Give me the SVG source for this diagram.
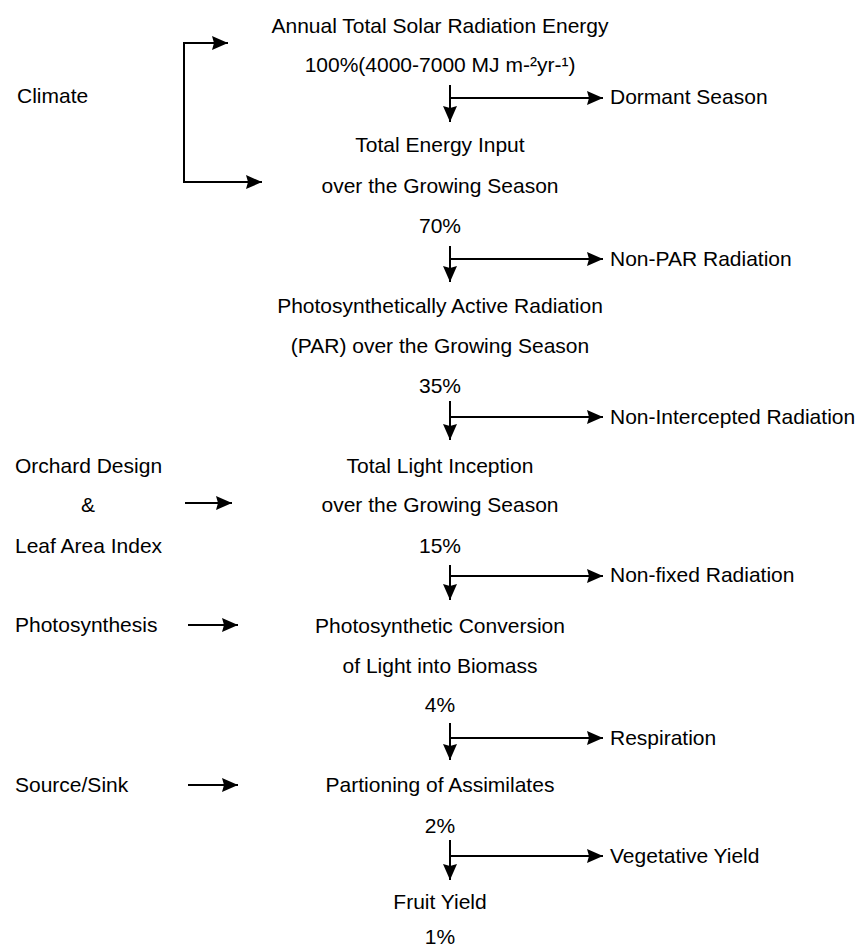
<svg xmlns="http://www.w3.org/2000/svg" width="867" height="949" viewBox="0 0 867 949">
<style>
text{font-family:"Liberation Sans",Arial,sans-serif;font-size:21px;fill:#000}
.c{text-anchor:middle}
.ln{stroke:#000;stroke-width:2;fill:none}
</style>
<defs>
<marker id="ah" markerUnits="userSpaceOnUse" markerWidth="17" markerHeight="14" refX="16" refY="7" orient="auto">
<path d="M0,0 L16,7 L0,14 L2,7 z" fill="#000"/>
</marker>
</defs>
<rect width="867" height="949" fill="#fff"/>
<g id="n-solar"><text class="c" x="440" y="33">Annual Total Solar Radiation Energy</text><text class="c" x="440" y="72">100%(4000-7000 MJ m-²yr-¹)</text></g>
<g id="n-input"><text class="c" x="440" y="152">Total Energy Input</text><text class="c" x="440" y="193">over the Growing Season</text><text class="c" x="440" y="233">70%</text></g>
<g id="n-par"><text class="c" x="440" y="313">Photosynthetically Active Radiation</text><text class="c" x="440" y="353">(PAR) over the Growing Season</text><text class="c" x="440" y="393">35%</text></g>
<g id="n-light"><text class="c" x="440" y="473">Total Light Inception</text><text class="c" x="440" y="512">over the Growing Season</text><text class="c" x="440" y="553">15%</text></g>
<g id="n-conv"><text class="c" x="440" y="633">Photosynthetic Conversion</text><text class="c" x="440" y="673">of Light into Biomass</text><text class="c" x="440" y="712">4%</text></g>
<g id="n-part"><text class="c" x="440" y="792">Partioning of Assimilates</text><text class="c" x="440" y="833">2%</text></g>
<g id="n-fruit"><text class="c" x="440" y="909">Fruit Yield</text><text class="c" x="440" y="944">1%</text></g>
<g id="n-dormant"><text x="610" y="104">Dormant Season</text></g>
<g id="n-nonpar"><text x="610" y="266">Non-PAR Radiation</text></g>
<g id="n-nonint"><text x="610" y="424">Non-Intercepted Radiation</text></g>
<g id="n-nonfixed"><text x="610" y="582">Non-fixed Radiation</text></g>
<g id="n-resp"><text x="610" y="745">Respiration</text></g>
<g id="n-veg"><text x="610" y="863">Vegetative Yield</text></g>
<g id="n-climate"><text x="17" y="103">Climate</text></g>
<g id="n-orchard"><text x="15" y="473">Orchard Design</text><text class="c" x="88" y="512">&amp;</text><text x="15" y="553">Leaf Area Index</text></g>
<g id="n-photo"><text x="15" y="632">Photosynthesis</text></g>
<g id="n-source"><text x="15" y="792">Source/Sink</text></g>
<g id="connectors">
<path class="ln" d="M184,43 V182 H262" marker-end="url(#ah)"/>
<path class="ln" d="M183,43 H228" marker-end="url(#ah)"/>
<line class="ln" x1="450" y1="85" x2="450" y2="122" marker-end="url(#ah)"/>
<line class="ln" x1="450" y1="98" x2="603" y2="98" marker-end="url(#ah)"/>
<line class="ln" x1="450" y1="246" x2="450" y2="282" marker-end="url(#ah)"/>
<line class="ln" x1="450" y1="259" x2="603" y2="259" marker-end="url(#ah)"/>
<line class="ln" x1="450" y1="401" x2="450" y2="440" marker-end="url(#ah)"/>
<line class="ln" x1="450" y1="417" x2="603" y2="417" marker-end="url(#ah)"/>
<line class="ln" x1="450" y1="565" x2="450" y2="600" marker-end="url(#ah)"/>
<line class="ln" x1="450" y1="576" x2="603" y2="576" marker-end="url(#ah)"/>
<line class="ln" x1="450" y1="723" x2="450" y2="760" marker-end="url(#ah)"/>
<line class="ln" x1="450" y1="738" x2="603" y2="738" marker-end="url(#ah)"/>
<line class="ln" x1="450" y1="840" x2="450" y2="880" marker-end="url(#ah)"/>
<line class="ln" x1="450" y1="856" x2="603" y2="856" marker-end="url(#ah)"/>
<line class="ln" x1="185" y1="503" x2="232" y2="503" marker-end="url(#ah)"/>
<line class="ln" x1="188" y1="625" x2="238" y2="625" marker-end="url(#ah)"/>
<line class="ln" x1="188" y1="785" x2="238" y2="785" marker-end="url(#ah)"/>
</g>
</svg>
